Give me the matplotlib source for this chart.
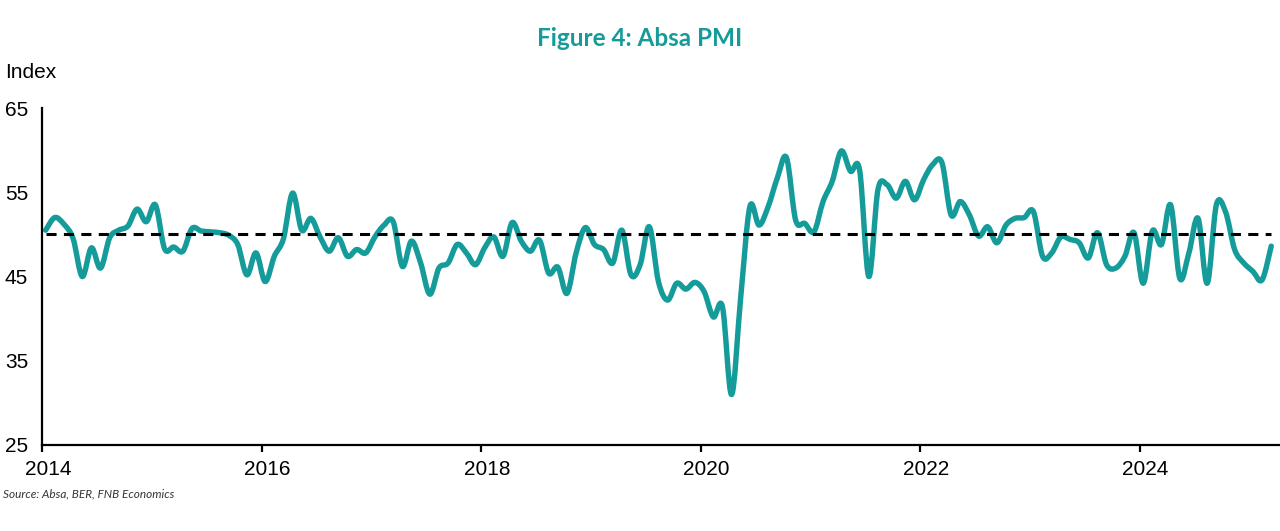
import matplotlib
matplotlib.use("Agg")
import matplotlib.pyplot as plt
import matplotlib.transforms as mtransforms
from matplotlib.path import Path
from matplotlib.patches import PathPatch
import numpy as np

# Absa PMI, monthly from Jan 2014 to Mar 2025
start_year = 2014
pmi = [
    50.5, 52.0, 51.2, 49.5, 45.0, 48.4, 46.0, 49.6, 50.5, 51.0, 53.0, 51.5,  # 2014
    53.5, 48.3, 48.5, 48.0, 50.7, 50.4, 50.3, 50.2, 49.9, 48.8, 45.2, 47.8,  # 2015
    44.4, 47.4, 49.5, 54.9, 50.5, 51.9, 49.7, 48.0, 49.6, 47.4, 48.2, 47.8,  # 2016
    49.7, 51.1, 51.5, 46.2, 49.2, 46.6, 42.9, 46.0, 46.6, 48.8, 47.8, 46.4,  # 2017
    48.4, 49.7, 47.4, 51.4, 49.2, 48.0, 49.3, 45.4, 46.1, 43.0, 47.8, 50.8,  # 2018
    48.8, 48.2, 46.6, 50.5, 45.2, 46.4, 50.9, 44.4, 42.2, 44.2, 43.5, 44.3,  # 2019
    43.2, 40.2, 41.4, 31.0, 42.6, 53.3, 51.1, 53.3, 56.7, 59.1, 51.7, 51.3,  # 2020
    50.3, 53.9, 56.3, 59.9, 57.5, 57.6, 45.0, 55.3, 55.9, 54.3, 56.3, 54.1,  # 2021
    56.5, 58.3, 58.5, 52.3, 53.9, 52.3, 49.8, 50.9, 49.0, 51.1, 51.9, 52.0,  # 2022
    52.7, 47.4, 47.8, 49.7, 49.4, 49.0, 47.2, 50.2, 46.4, 46.0, 47.4, 50.2,  # 2023
    44.2, 50.4, 48.8, 53.5, 44.8, 47.8, 51.9, 44.2, 53.5, 52.7, 48.2, 46.6,  # 2024
    45.6, 44.6, 48.6,                                                        # 2025
]
neutral = 50
year_ticks = [2014, 2016, 2018, 2020, 2022, 2024]
y_ticks = [25, 35, 45, 55, 65]

teal = '#159C9A'

# monthly observations placed a little into each month, like the source chart
months = np.arange(len(pmi))
x = start_year + (months + 0.4) / 12
y = np.array(pmi)


def smooth_path(xs, ys, t=1 / 6):
    # Excel-style smoothed line: cubic Bezier segments through every point
    verts = [(xs[0], ys[0])]
    codes = [Path.MOVETO]
    n = len(xs)
    for i in range(n - 1):
        x0, y0 = (xs[i - 1], ys[i - 1]) if i > 0 else (xs[i], ys[i])
        x3, y3 = (xs[i + 2], ys[i + 2]) if i + 2 < n else (xs[i + 1], ys[i + 1])
        c1 = (xs[i] + (xs[i + 1] - x0) * t, ys[i] + (ys[i + 1] - y0) * t)
        c2 = (xs[i + 1] - (x3 - xs[i]) * t, ys[i + 1] - (y3 - ys[i]) * t)
        verts += [c1, c2, (xs[i + 1], ys[i + 1])]
        codes += [Path.CURVE4] * 3
    return Path(verts, codes)


fig = plt.figure(figsize=(12.8, 5.31), dpi=100)
ax = fig.add_axes([42 / 1280, 86 / 531, 1 - 42 / 1280, 337 / 531])

ax.plot(x, [neutral] * len(x), color='black', lw=2.2, dashes=(3.3, 2.4))
ax.add_patch(PathPatch(smooth_path(x, y), facecolor='none', edgecolor=teal,
                       lw=3.9, joinstyle='round', capstyle='round'))

ax.set_xlim(2014, 2025.28)
ax.set_ylim(25, 65)
ax.set_xticks(year_ticks)
ax.set_xticklabels([str(v) for v in year_ticks])
ax.set_yticks(y_ticks)

for side in ['top', 'right']:
    ax.spines[side].set_visible(False)
for side in ['left', 'bottom']:
    ax.spines[side].set_linewidth(1.6)
    ax.spines[side].set_color('black')

ax.tick_params(axis='x', length=5, width=1.6, direction='out', pad=6,
               labelsize=15)
ax.tick_params(axis='y', length=0, pad=10, labelsize=15)
for lab in ax.get_xticklabels() + ax.get_yticklabels():
    lab.set_fontfamily('Liberation Sans')
# x labels sit slightly right of their ticks in the original
offset = mtransforms.ScaledTranslation(6 / 100, 0, fig.dpi_scale_trans)
for lab in ax.get_xticklabels():
    lab.set_transform(lab.get_transform() + offset)

fig.text(0.5, 1 - 38 / 531, 'Figure 4: Absa PMI', ha='center', va='center',
         fontsize=17.5, fontweight='bold', color=teal, family='Lato')
fig.text(5 / 1280, 1 - 73 / 531, 'Index', ha='left', va='center',
         fontsize=15, family='Liberation Sans')
fig.text(3 / 1280, 1 - 494 / 531, 'Source: Absa, BER, FNB Economics', ha='left',
         va='center', fontsize=8.5, style='italic', family='Lato', color='#333333')

fig.savefig('out.png', dpi=100)
